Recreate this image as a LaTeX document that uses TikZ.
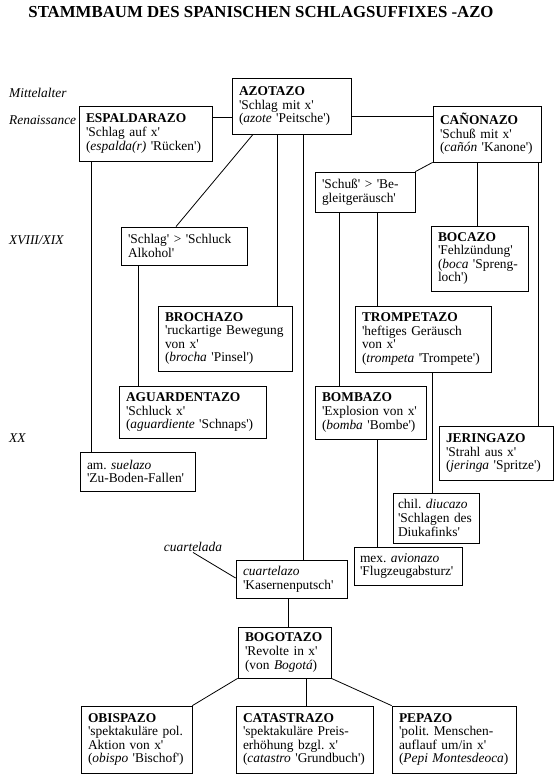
\documentclass[tikz,border=0pt]{standalone}
\usepackage{fontspec}
\setmainfont{Liberation Serif}[Ligatures=TeXOff]
\frenchspacing
\hyphenpenalty=10000
\exhyphenpenalty=10000
\begin{document}
\begin{tikzpicture}[x=1pt,y=-1pt,
  bx/.style={draw, line width=0.8pt, align=left, inner xsep=7pt, inner ysep=2pt,
    font=\fontsize{13.4}{13.6}\selectfont, anchor=center},
  era/.style={font=\fontsize{13.4}{13.6}\selectfont\itshape, anchor=west, inner sep=0pt},
  ln/.style={line width=0.8pt}]
\useasboundingbox (0,0) rectangle (558,781);
\node[font=\fontsize{16.8}{18}\selectfont\bfseries] (title) at (261,12) {STAMMBAUM DES SPANISCHEN SCHLAGSUFFIXES -AZO};
% eras
\node[era] (e1) at (9,93) {Mittelalter};
\node[era] (e2) at (9,120) {Renaissance};
\node[era] (e3) at (9,240) {XVIII/XIX};
\node[era] (e4) at (9,438) {XX};
% boxes
\node[bx, text width=119pt, minimum height=55pt] (esp) at (145.5,133.5) {\textbf{ESPALDARAZO}\\'Schlag auf x'\\(\textit{espalda(r)} 'Rücken')};
\node[bx, text width=105pt, minimum height=56pt] (azo) at (291.5,106) {\textbf{AZOTAZO}\\'Schlag mit x'\\(\textit{azote} 'Peitsche')};
\node[bx, text width=94pt, minimum height=56pt] (can) at (487,134) {\textbf{CAÑONAZO}\\'Schuß mit x'\\(\textit{cañón} 'Kanone')};
\node[bx, text width=112pt, minimum height=38pt] (schluck) at (184,246) {'Schlag' > 'Schluck\\Alkohol'};
\node[bx, text width=86pt, minimum height=40pt] (schuss) at (365,192) {'Schuß' > 'Be-\\gleitgeräusch'};
\node[bx, text width=83pt, minimum height=65pt] (bocazo) at (479.5,258.5) {\textbf{BOCAZO}\\'Fehlzündung'\\(\textit{boca} 'Spreng-\\loch')};
\node[bx, text width=120pt, minimum height=65pt] (brochazo) at (225,338.5) {\textbf{BROCHAZO}\\'ruckartige Bewegung\\von x'\\(\textit{brocha} 'Pinsel')};
\node[bx, text width=122pt, minimum height=66pt] (trompetazo) at (423,339) {\textbf{TROMPETAZO}\\'heftiges Geräusch\\von x'\\(\textit{trompeta} 'Trompete')};
\node[bx, text width=133pt, minimum height=52pt] (aguardentazo) at (192.5,412) {\textbf{AGUARDENTAZO}\\'Schluck x'\\(\textit{aguardiente} 'Schnaps')};
\node[bx, text width=97pt, minimum height=53pt] (bombazo) at (370.5,412.5) {\textbf{BOMBAZO}\\'Explosion von x'\\(\textit{bomba} 'Bombe')};
\node[bx, text width=100pt, minimum height=54pt] (jeringazo) at (496,453) {\textbf{JERINGAZO}\\'Strahl aus x'\\(\textit{jeringa} 'Spritze')};
\node[bx, text width=101pt, minimum height=39pt] (suelazo) at (137.5,471.5) {am. \textit{suelazo}\\'Zu-Boden-Fallen'};
\node[bx, inner xsep=5pt, text width=76pt, minimum height=50pt] (diucazo) at (436,518) {chil. \textit{diucazo}\\'Schlagen des\\Diukafinks'};
\node[bx, inner xsep=6pt, text width=96pt, minimum height=38pt] (avionazo) at (408,566) {mex. \textit{avionazo}\\'Flugzeugabsturz'};
\node[bx, text width=97pt, minimum height=38pt] (cuartelazo) at (291.5,579) {\textit{cuartelazo}\\'Kasernenputsch'};
\node[era, anchor=center, inner sep=1pt] (cuartelada) at (193,546.5) {cuartelada};
\node[bx, text width=79pt, minimum height=51pt] (bogotazo) at (284.5,652.5) {\textbf{BOGOTAZO}\\'Revolte in x'\\(von \textit{Bogotá})};
\node[bx, text width=97pt, minimum height=67pt] (obispazo) at (136.5,739.5) {\textbf{OBISPAZO}\\'spektakuläre pol.\\Aktion von x'\\(\textit{obispo} 'Bischof')};
\node[bx, text width=123pt, minimum height=67pt] (catastrazo) at (304.5,739.5) {\textbf{CATASTRAZO}\\'spektakuläre Preis-\\erhöhung bzgl. x'\\(\textit{catastro} 'Grundbuch')};
\node[bx, text width=110pt, minimum height=67pt] (pepazo) at (454,739.5) {\textbf{PEPAZO}\\'polit. Menschen-\\auflauf um/in x'\\(\textit{Pepi Montesdeoca})};
% connectors
\draw[ln] (esp.east |- 0,117) -- (azo.west |- 0,117);
\draw[ln] (azo.east |- 0,116) -- (can.west |- 0,116);
\draw[ln] (azo.south -| 253,0) -- (schluck.north -| 176,0);
\draw[ln] (azo.south -| 277.5,0) -- (brochazo.north -| 277.5,0);
\draw[ln] (azo.south -| 303,0) -- (cuartelazo.north -| 303,0);
\draw[ln] (esp.south -| 91,0) -- (suelazo.north -| 91,0);
\draw[ln] (schluck.south -| 138,0) -- (aguardentazo.north -| 138,0);
\draw[ln] (can.south west) -- (schuss.north east);
\draw[ln] (can.south -| 477,0) -- (bocazo.north -| 477,0);
\draw[ln] (can.south -| 538,0) -- (jeringazo.north -| 538,0);
\draw[ln] (schuss.south -| 339,0) -- (bombazo.north -| 339,0);
\draw[ln] (schuss.south -| 377.5,0) -- (trompetazo.north -| 377.5,0);
\draw[ln] (trompetazo.south -| 432,0) -- (diucazo.north -| 432,0);
\draw[ln] (bombazo.south -| 377.5,0) -- (avionazo.north -| 377.5,0);
\draw[ln] (cuartelada.south) -- (cuartelazo.west |- 0,578);
\draw[ln] (cuartelazo.south -| 288.5,0) -- (bogotazo.north -| 288.5,0);
\draw[ln] (bogotazo.south west) -- (obispazo.north east);
\draw[ln] (bogotazo.south -| 306,0) -- (catastrazo.north -| 306,0);
\draw[ln] (bogotazo.south east) -- (pepazo.north west);
\end{tikzpicture}
\end{document}
